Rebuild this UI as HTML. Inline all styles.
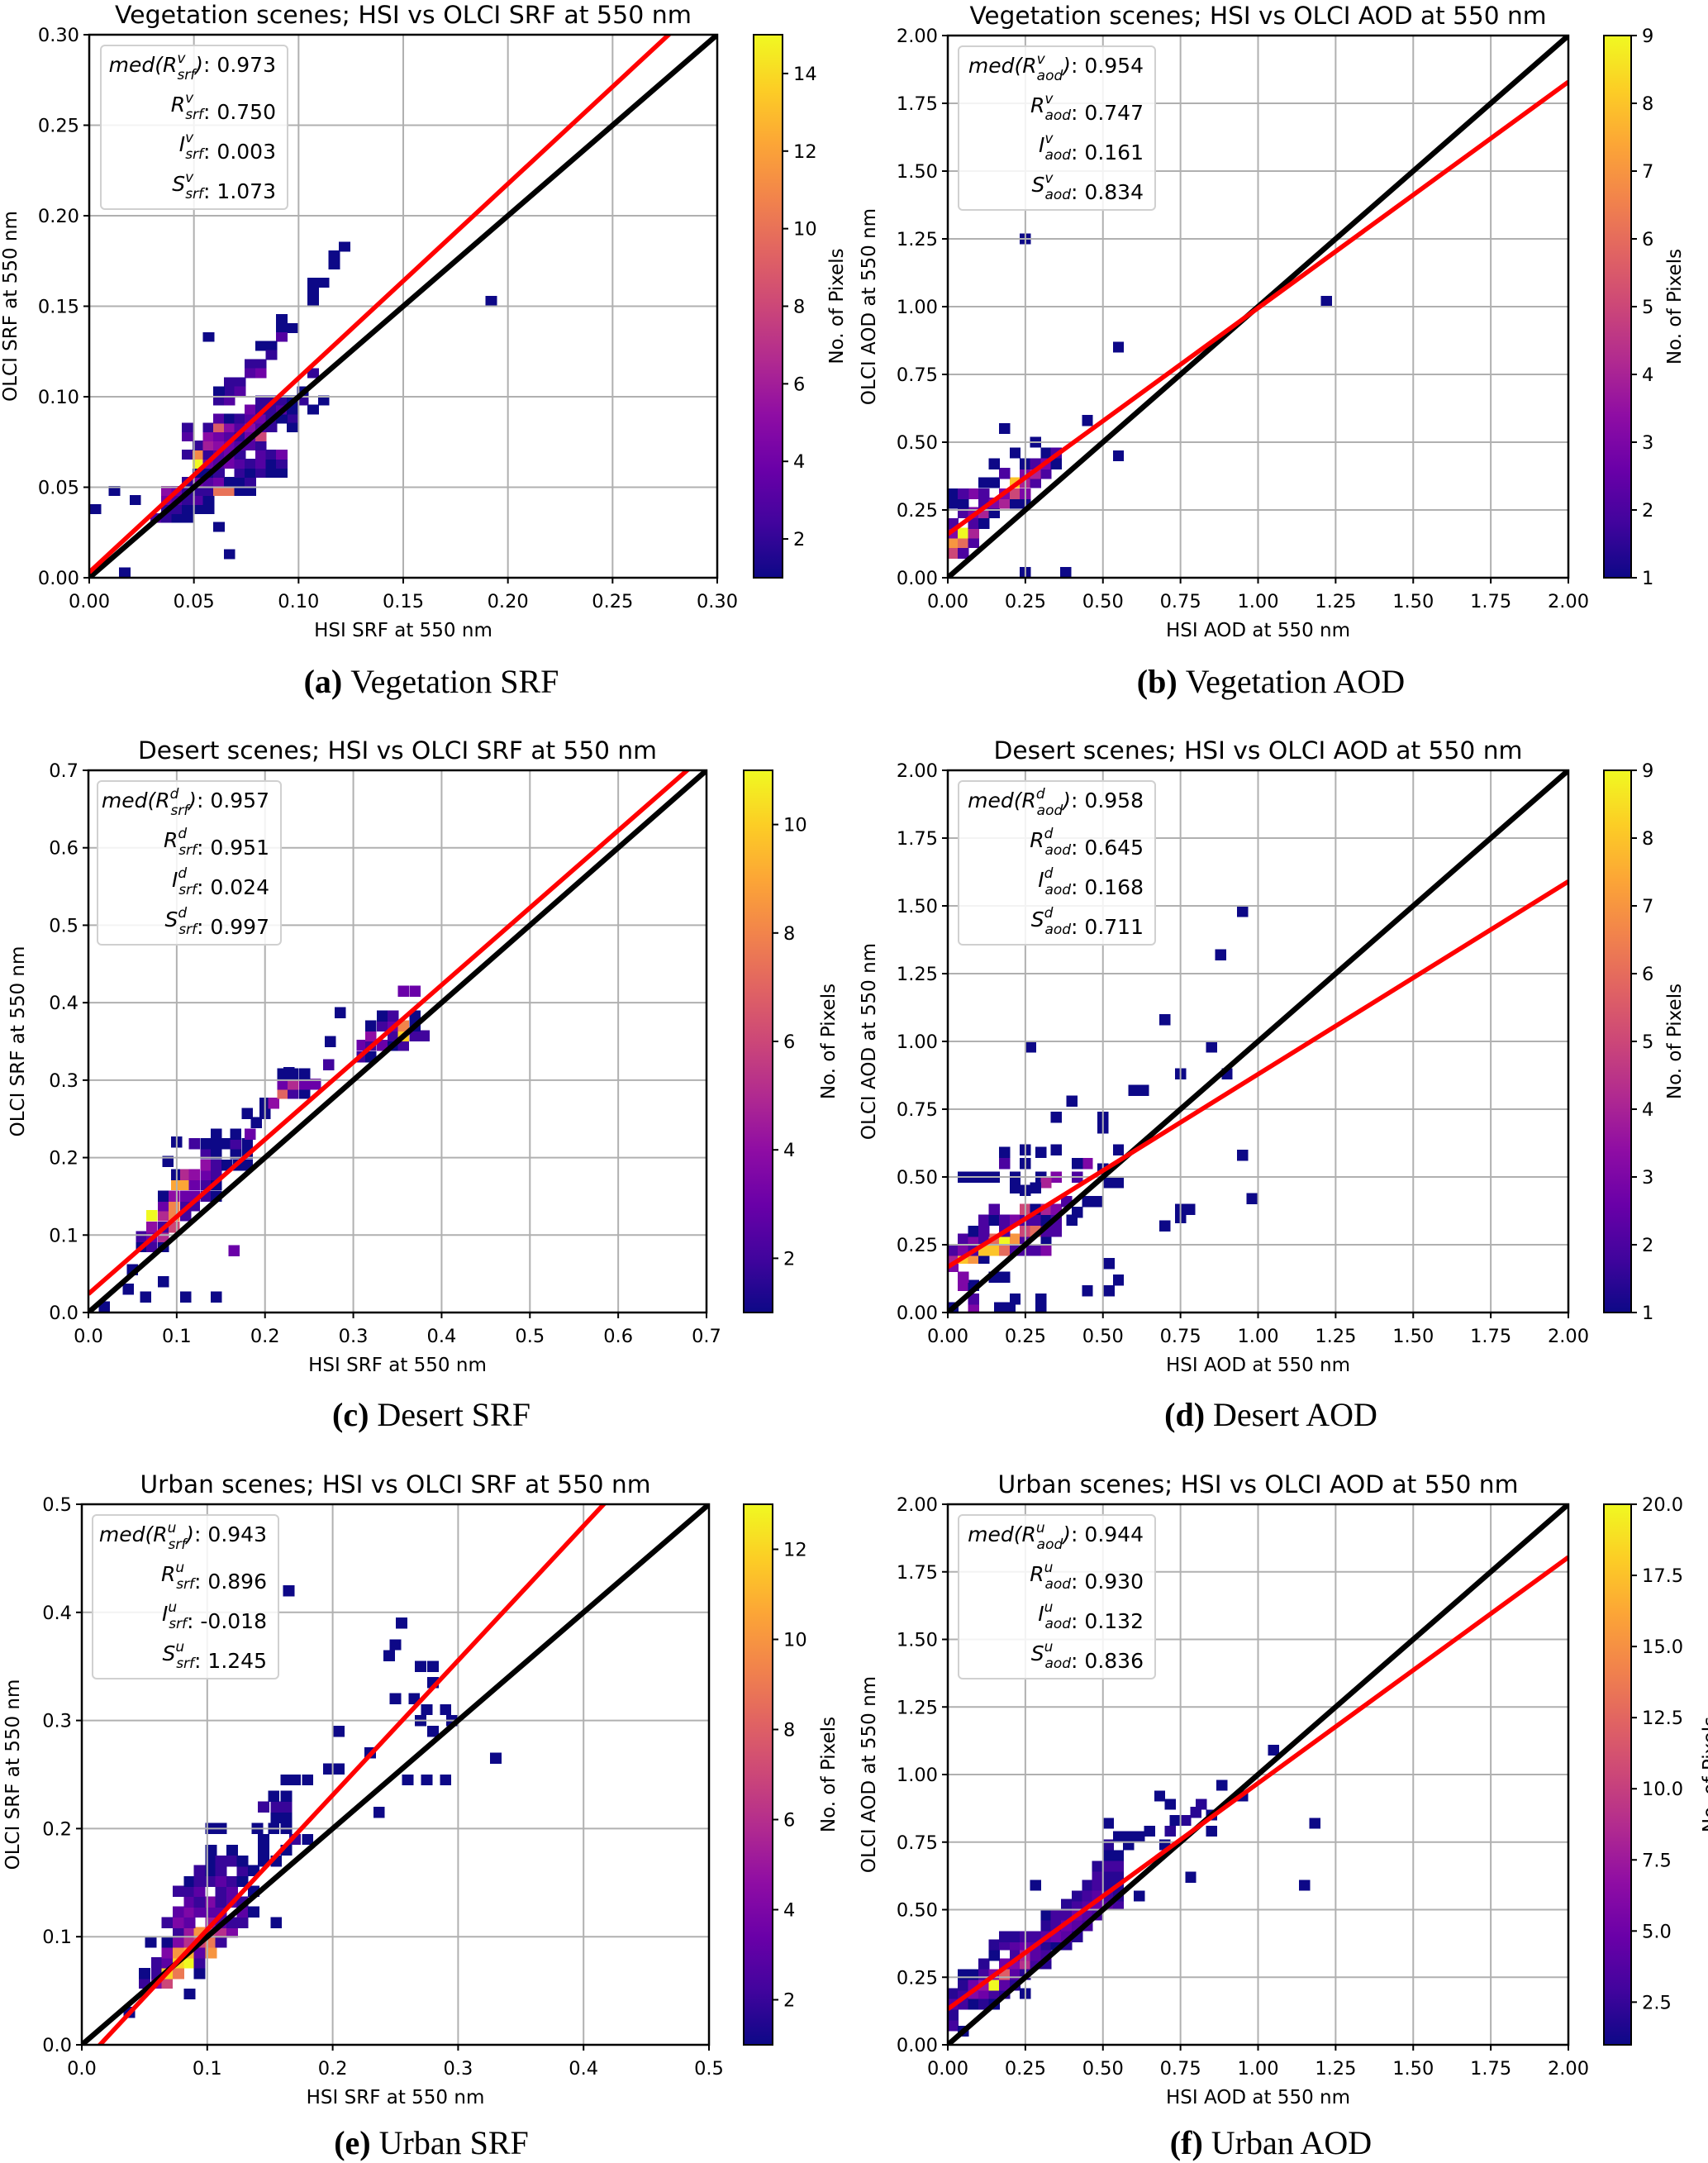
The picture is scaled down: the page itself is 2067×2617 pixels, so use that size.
<!DOCTYPE html>
<html><head><meta charset="utf-8"><style>
html,body{margin:0;padding:0;background:#fff;}
svg{display:block;}
text{font-family:"DejaVu Sans","Liberation Sans",sans-serif;fill:#000;}
.cap{font-family:"Liberation Serif",serif;}
</style></head><body>
<svg id="fig" xmlns="http://www.w3.org/2000/svg" width="2067" height="2617" viewBox="0 0 2067 2617"></svg>
<script>
// ---- data ----
const panelTitles = ["Vegetation  scenes; HSI vs OLCI SRF at 550 nm","Vegetation  scenes; HSI vs OLCI AOD at 550 nm","Desert  scenes; HSI vs OLCI SRF at 550 nm","Desert  scenes; HSI vs OLCI AOD at 550 nm","Urban  scenes; HSI vs OLCI SRF at 550 nm","Urban  scenes; HSI vs OLCI AOD at 550 nm"];
const captionLetters = ["(a)","(b)","(c)","(d)","(e)","(f)"];
const captionTexts = ["Vegetation SRF","Vegetation AOD","Desert SRF","Desert AOD","Urban SRF","Urban AOD"];
const xLabels = ["HSI SRF at 550 nm","HSI AOD at 550 nm","HSI SRF at 550 nm","HSI AOD at 550 nm","HSI SRF at 550 nm","HSI AOD at 550 nm"];
const yLabels = ["OLCI SRF at 550 nm","OLCI AOD at 550 nm","OLCI SRF at 550 nm","OLCI AOD at 550 nm","OLCI SRF at 550 nm","OLCI AOD at 550 nm"];
const axisMax = [0.3,2.0,0.7,2.0,0.5,2.0];
const srfTicksA = [0,0.05,0.10,0.15,0.20,0.25,0.30];
const aodTicks = [0,0.25,0.5,0.75,1.0,1.25,1.5,1.75,2.0];
const srfTicksC = [0,0.1,0.2,0.3,0.4,0.5,0.6,0.7];
const srfTicksE = [0,0.1,0.2,0.3,0.4,0.5];
const tickDecimals = [2,2,1,2,1,2];
const fitIntercepts = [0.003,0.161,0.024,0.168,-0.018,0.132];
const fitSlopes = [1.073,0.834,0.997,0.711,1.245,0.836];
const medR = ["0.973","0.954","0.957","0.958","0.943","0.944"];
const corrR = ["0.750","0.747","0.951","0.645","0.896","0.930"];
const interceptText = ["0.003","0.161","0.024","0.168","-0.018","0.132"];
const slopeText = ["1.073","0.834","0.997","0.711","1.245","0.836"];
const supLetters = ["v","v","d","d","u","u"];
const subTexts = ["srf","aod","srf","aod","srf","aod"];
const cbMin = [1,1,1,1,1,1];
const cbMax = [15,9,11,9,13,20];
const cbTicksA = [2,4,6,8,10,12,14];
const cbTicksB = [1,2,3,4,5,6,7,8,9];
const cbTicksC = [2,4,6,8,10];
const cbTicksE = [2,4,6,8,10,12];
const cbTicksF = [2.5,5,7.5,10,12.5,15,17.5,20];
const binW = [0.005,0.033,0.0117,0.033,0.0085,0.033];
const binH = [0.005,0.037,0.0133,0.038,0.0095,0.037];

const cellsA = [[.003,.038,1],[.012,.048,1],[.022,.043,1],[.017,.003,1],[.062,.028,1],[.067,.013,1],[.057,.133,1],[.192,.153,1],[.122,.183,1],[.117,.173,1],[.117,.178,1],[.107,.163,1],[.112,.163,1],[.107,.158,1],[.107,.153,1],[.092,.143,1],[.092,.138,1],[.097,.138,1],[.092,.133,3],[.082,.128,1],[.087,.128,1],[.087,.123,2],[.077,.118,2],[.082,.118,2],[.077,.113,3],[.082,.113,4],[.067,.108,2],[.072,.108,2],[.067,.103,2],[.062,.103,1],[.072,.103,3],[.062,.098,2],[.067,.098,3],[.107,.113,2],[.102,.103,1],[.107,.093,1],[.112,.098,1],[.102,.098,2],[.097,.088,2],[.097,.083,1],
[.032,.033,3],[.037,.033,2],[.042,.033,1],[.047,.033,1],[.037,.038,2],[.042,.038,2],[.047,.038,1],[.052,.038,1],[.057,.038,1],[.037,.043,4],[.042,.043,3],[.047,.043,2],[.052,.043,3],[.057,.043,1],[.037,.048,5],[.042,.048,4],[.047,.048,2],[.052,.048,2],[.057,.048,2],[.062,.048,10],[.067,.048,10],[.072,.048,1],[.077,.048,1],[.047,.053,2],[.052,.053,4],[.057,.053,3],[.062,.053,4],[.067,.053,1],[.072,.053,1],[.077,.053,2],[.052,.058,1],[.057,.058,1],[.062,.058,2],[.072,.058,2],[.077,.058,1],[.082,.058,2],[.087,.058,1],[.092,.058,1],[.052,.063,15],[.057,.063,4],[.062,.063,3],[.067,.063,4],[.072,.063,3],[.077,.063,2],[.082,.063,3],[.087,.063,1],[.092,.063,2],[.047,.068,2],[.052,.068,11],[.057,.068,2],[.062,.068,3],[.067,.068,4],[.072,.068,2],[.082,.068,3],[.087,.068,2],[.092,.068,4],[.052,.073,2],[.057,.073,6],[.062,.073,5],[.067,.073,4],[.072,.073,3],[.077,.073,3],[.082,.073,2],[.047,.078,3],[.057,.078,5],[.062,.078,4],[.067,.078,3],[.072,.078,2],[.077,.078,4],[.082,.078,8],[.047,.083,2],[.057,.083,2],[.062,.083,9],[.067,.083,5],[.072,.083,3],[.077,.083,5],[.082,.083,3],[.087,.083,2],[.062,.088,3],[.067,.088,1],[.072,.088,2],[.077,.088,3],[.082,.088,4],[.087,.088,2],[.092,.088,1],[.077,.093,4],[.082,.093,2],[.087,.093,2],[.092,.093,3],[.097,.093,1],[.082,.098,2],[.087,.098,2],[.092,.098,2],[.097,.098,1]];
const cellsB = [[.017,.09,5],[.05,.09,2],[.017,.13,7],[.05,.13,6],[.083,.13,2],[.017,.165,3],[.05,.165,9],[.083,.165,4],[.017,.2,2],[.083,.2,2],[.117,.2,1],[.05,.24,2],[.083,.24,3],[.117,.24,4],[.15,.24,1],[.017,.275,1],[.05,.275,1],[.117,.275,2],[.15,.275,3],[.183,.275,4],[.217,.275,1],[.25,.275,1],[.083,.31,3],[.117,.31,2],[.183,.31,3],[.217,.31,5],[.25,.31,3],[.15,.35,1],[.217,.35,8],[.25,.35,4],[.283,.35,2],[.183,.385,2],[.25,.385,3],[.283,.385,4],[.317,.385,2],[.15,.42,1],[.25,.42,1],[.283,.42,2],[.317,.42,3],[.35,.42,1],[.317,.46,1],[.35,.46,2],[.217,.46,1],[.183,.55,1],[.283,.5,1],[.45,.58,1],[.55,.45,1],[.25,.02,1],[.38,.02,1],[.25,1.25,1],[.55,.85,1],[1.22,1.02,1],[.017,.31,1],[.117,.35,1],[.05,.31,2]];
const cellsC = [[.018,.007,1],[.045,.03,1],[.065,.02,1],[.085,.04,1],[.11,.02,1],[.145,.02,1],[.165,.08,3],[.05,.055,1],[.06,.085,1],[.072,.085,2],[.085,.085,1],[.06,.098,2],[.072,.098,3],[.085,.098,5],[.072,.11,4],[.085,.11,2],[.097,.11,6],[.072,.125,13],[.085,.125,5],[.097,.125,8],[.11,.125,2],[.085,.138,3],[.097,.138,8],[.11,.138,2],[.12,.138,2],[.085,.15,1],[.097,.15,4],[.11,.15,3],[.12,.15,3],[.133,.15,2],[.145,.15,1],[.1,.165,9],[.11,.165,9],[.12,.165,3],[.133,.165,2],[.145,.165,1],[.1,.178,1],[.11,.178,5],[.12,.178,4],[.133,.178,3],[.145,.178,2],[.133,.19,4],[.145,.19,2],[.157,.19,1],[.17,.19,1],[.18,.19,1],[.133,.205,2],[.145,.205,1],[.167,.205,1],[.18,.205,1],[.12,.218,2],[.133,.218,1],[.145,.218,1],[.157,.218,1],[.167,.218,2],[.18,.218,1],[.145,.23,1],[.167,.23,1],[.183,.23,3],[.19,.245,1],[.2,.257,1],[.18,.257,1],[.2,.27,1],[.21,.27,4],[.22,.283,7],[.232,.283,2],[.245,.283,1],[.22,.295,3],[.232,.295,5],[.245,.295,3],[.257,.295,3],[.22,.308,1],[.232,.308,1],[.245,.308,1],[.272,.32,2],[.31,.33,2],[.32,.33,1],[.31,.345,3],[.32,.345,2],[.333,.345,3],[.345,.345,1],[.357,.345,2],[.32,.357,4],[.345,.357,2],[.357,.357,10],[.37,.357,2],[.38,.357,2],[.32,.37,1],[.333,.37,2],[.345,.37,3],[.357,.37,8],[.37,.37,1],[.333,.383,1],[.345,.383,2],[.37,.383,1],[.357,.415,3],[.37,.415,3],[.285,.387,1],[.274,.35,1],[.227,.31,1],[.1,.22,1],[.09,.195,1]];
const cellsD = [[.017,.017,1],[.083,.017,3],[.083,.05,2],[.167,.017,1],[.2,.017,1],[.217,.05,1],[.3,.017,1],[.3,.05,1],[.05,.1,3],[.083,.1,1],[.05,.13,3],[.15,.13,1],[.183,.13,1],[.017,.17,3],[.017,.2,4],[.05,.2,8],[.083,.2,7],[.117,.2,1],[.017,.23,2],[.05,.23,3],[.083,.23,2],[.117,.23,8],[.15,.23,8],[.183,.23,6],[.217,.23,2],[.25,.23,2],[.283,.23,2],[.317,.23,3],[.05,.27,2],[.083,.27,3],[.117,.27,2],[.15,.27,6],[.183,.27,9],[.217,.27,7],[.25,.27,2],[.317,.27,1],[.083,.3,1],[.117,.3,2],[.183,.3,2],[.25,.3,5],[.283,.3,6],[.317,.3,2],[.35,.3,2],[.117,.34,2],[.15,.34,1],[.183,.34,2],[.217,.34,3],[.25,.34,2],[.283,.34,2],[.317,.34,1],[.35,.34,2],[.4,.34,1],[.417,.37,1],[.15,.38,2],[.25,.38,5],[.283,.38,1],[.317,.38,4],[.35,.38,3],[.383,.41,2],[.45,.41,1],[.483,.41,1],[.25,.45,1],[.05,.5,1],[.083,.5,1],[.117,.5,1],[.15,.5,1],[.217,.5,1],[.3,.5,1],[.35,.5,3],[.417,.5,2],[.317,.48,4],[.217,.46,1],[.283,.46,1],[.183,.55,2],[.25,.55,1],[.45,.55,3],[.183,.59,1],[.3,.59,1],[.417,.55,1],[.25,.6,1],[.35,.6,1],[.517,.48,1],[.55,.48,1],[.5,.53,1],[.267,.98,1],[.4,.78,1],[.5,.72,1],[.5,.68,1],[.35,.72,1],[.7,1.08,1],[.85,.98,1],[.9,.88,1],[.75,.88,1],[.6,.82,1],[.63,.82,1],[.88,1.32,1],[.95,1.48,1],[.95,.58,1],[.98,.42,1],[.7,.32,1],[.75,.38,1],[.78,.38,1],[.75,.35,1],[.52,.18,1],[.55,.12,1],[.52,.08,1],[.45,.08,1],[.55,.6,1]];
const cellsE = [[.038,.03,1],[.086,.047,1],[.05,.057,2],[.06,.057,4],[.068,.057,7],[.05,.066,1],[.06,.066,2],[.068,.066,12],[.077,.066,9],[.094,.066,1],[.06,.076,2],[.068,.076,3],[.077,.076,12],[.086,.076,13],[.094,.076,2],[.068,.085,4],[.077,.085,10],[.086,.085,11],[.094,.085,3],[.103,.085,10],[.068,.095,1],[.077,.095,4],[.086,.095,6],[.094,.095,7],[.103,.095,9],[.111,.095,2],[.055,.095,1],[.077,.104,2],[.086,.104,5],[.094,.104,10],[.103,.104,7],[.111,.104,6],[.12,.104,4],[.068,.113,2],[.077,.113,4],[.086,.113,3],[.103,.113,5],[.111,.113,3],[.12,.113,2],[.128,.113,2],[.155,.113,1],[.077,.123,3],[.086,.123,4],[.094,.123,3],[.103,.123,3],[.111,.123,3],[.128,.123,3],[.137,.123,1],[.086,.132,3],[.094,.132,2],[.103,.132,4],[.111,.132,2],[.12,.132,3],[.128,.132,2],[.077,.142,2],[.086,.142,2],[.094,.142,3],[.111,.142,2],[.12,.142,3],[.137,.142,1],[.086,.151,1],[.094,.151,2],[.103,.151,2],[.111,.151,3],[.12,.151,2],[.128,.151,1],[.094,.161,2],[.103,.161,1],[.111,.161,2],[.128,.161,2],[.137,.161,1],[.103,.17,1],[.111,.17,2],[.12,.17,2],[.128,.17,1],[.145,.17,1],[.155,.17,1],[.103,.18,1],[.12,.18,1],[.145,.18,1],[.163,.18,1],[.145,.19,1],[.17,.19,2],[.18,.19,1],[.103,.2,1],[.111,.2,1],[.14,.2,1],[.153,.2,1],[.163,.2,1],[.155,.21,1],[.163,.21,1],[.145,.22,2],[.155,.22,2],[.163,.22,2],[.153,.23,1],[.163,.23,1],[.163,.245,1],[.17,.245,1],[.18,.245,1],[.197,.255,1],[.205,.255,1],[.23,.27,1],[.205,.29,1],[.28,.29,1],[.27,.3,1],[.295,.3,1],[.275,.31,1],[.29,.31,1],[.265,.32,1],[.25,.32,1],[.28,.335,1],[.27,.35,1],[.28,.35,1],[.245,.36,1],[.25,.37,1],[.255,.39,1],[.165,.42,1],[.33,.265,1],[.26,.245,1],[.275,.245,1],[.29,.245,1],[.237,.215,1]];
const cellsF = [[.017,.07,3],[.017,.11,2],[.017,.15,4],[.05,.15,3],[.083,.15,1],[.117,.15,2],[.15,.15,1],[.05,.05,1],[.017,.19,2],[.05,.19,3],[.083,.19,6],[.117,.19,5],[.15,.19,3],[.183,.19,2],[.05,.22,2],[.083,.22,5],[.117,.22,7],[.15,.22,20],[.183,.22,4],[.217,.22,2],[.05,.26,1],[.083,.26,1],[.117,.26,3],[.15,.26,6],[.183,.26,12],[.217,.26,4],[.25,.26,2],[.117,.3,2],[.183,.3,5],[.217,.3,6],[.25,.3,9],[.283,.3,3],[.317,.3,2],[.15,.33,1],[.217,.33,3],[.25,.33,8],[.283,.33,4],[.317,.33,3],[.15,.37,2],[.183,.37,3],[.217,.37,4],[.25,.37,5],[.283,.37,4],[.317,.37,2],[.383,.37,2],[.35,.37,1],[.183,.4,2],[.217,.4,2],[.25,.4,3],[.283,.4,3],[.317,.4,4],[.35,.4,5],[.383,.4,4],[.417,.4,2],[.317,.44,2],[.35,.44,3],[.383,.44,5],[.417,.44,4],[.45,.44,3],[.317,.48,1],[.35,.48,3],[.383,.48,3],[.417,.48,5],[.45,.48,4],[.483,.48,3],[.383,.52,2],[.417,.52,3],[.45,.52,4],[.483,.52,5],[.517,.52,4],[.55,.52,3],[.417,.55,2],[.45,.55,3],[.483,.55,4],[.517,.55,3],[.55,.55,2],[.617,.55,1],[.45,.59,2],[.483,.59,3],[.517,.59,2],[.55,.59,2],[.283,.59,1],[.483,.63,3],[.517,.63,2],[.55,.63,2],[.483,.66,2],[.517,.66,3],[.55,.66,3],[.517,.7,1],[.517,.74,2],[.55,.7,1],[.583,.74,1],[.583,.77,1],[.617,.77,1],[.55,.77,1],[.65,.79,1],[.517,.82,1],[.7,.74,1],[.717,.79,2],[.733,.83,1],[.767,.83,2],[.8,.86,2],[.817,.89,2],[.85,.85,1],[.85,.79,1],[.683,.92,1],[.717,.89,1],[.883,.96,1],[.95,.92,1],[1.05,1.09,1],[.783,.62,1],[1.15,.59,1],[1.183,.82,1],[.25,.19,1]];

// ---- layout (not data) ----
const layout = [
 {L:108,R:868,T:42,B:699,cbL:912,cbR:947,yl:13,cbl:1013,legX:122,legW:226,titleW:698},
 {L:1147,R:1898,T:43,B:699,cbL:1941,cbR:1974,yl:1052,cbl:2027,legX:1160,legW:238,titleW:698},
 {L:107,R:855,T:932,B:1588,cbL:900,cbR:935,yl:22,cbl:1003,legX:118,legW:222,titleW:628},
 {L:1147,R:1898,T:932,B:1588,cbL:1941,cbR:1974,yl:1052,cbl:2027,legX:1160,legW:238,titleW:640},
 {L:99,R:858,T:1820,B:2474,cbL:900,cbR:935,yl:16,cbl:1003,legX:112,legW:225,titleW:618},
 {L:1147,R:1898,T:1820,B:2474,cbL:1941,cbR:1974,yl:1052,cbl:2070,legX:1160,legW:238,titleW:630}
];
const captionX = [522,1538,522,1538,522,1538];
const captionY = [826,826,1713,1713,2594,2594];
const allCells = [cellsA,cellsB,cellsC,cellsD,cellsE,cellsF];
const allXTicks = [srfTicksA,aodTicks,srfTicksC,aodTicks,srfTicksE,aodTicks];
const allCbTicks = [cbTicksA,cbTicksB,cbTicksC,cbTicksB,cbTicksE,cbTicksF];
const panelNames = ["vegetation-srf","vegetation-aod","desert-srf","desert-aod","urban-srf","urban-aod"];

const NS = "http://www.w3.org/2000/svg";
const fig = document.getElementById('fig');
function mk(tag, attrs, parent){const e=document.createElementNS(NS,tag);for(const k in attrs)e.setAttribute(k,attrs[k]);(parent||fig).appendChild(e);return e;}
const plasmaStops = ["#0d0887","#41049d","#6a00a8","#8f0da4","#b12a90","#cc4778","#e16462","#f2844b","#fca636","#fcce25","#f0f921"];
function hex(h){return [parseInt(h.slice(1,3),16),parseInt(h.slice(3,5),16),parseInt(h.slice(5,7),16)];}
function plasma(t){t=Math.max(0,Math.min(1,t));const f=t*10;const i=Math.min(9,Math.floor(f));const u=f-i;const a=hex(plasmaStops[i]),b=hex(plasmaStops[i+1]);return `rgb(${Math.round(a[0]+(b[0]-a[0])*u)},${Math.round(a[1]+(b[1]-a[1])*u)},${Math.round(a[2]+(b[2]-a[2])*u)})`;}

const defs = mk('defs',{});
const grad = mk('linearGradient',{id:'plasmaGrad',x1:0,y1:1,x2:0,y2:0},defs);
plasmaStops.forEach((c,i)=>mk('stop',{offset:(i*10)+'%','stop-color':c},grad));

for(let p=0;p<6;p++){
  const Lo = layout[p];
  const max = axisMax[p];
  const sx = v => Lo.L + v/max*(Lo.R-Lo.L);
  const sy = v => Lo.B - v/max*(Lo.B-Lo.T);
  const g = mk('g',{});
  
  
  const cp = mk('clipPath',{id:'clip'+p},defs);
  mk('rect',{x:Lo.L,y:Lo.T,width:Lo.R-Lo.L,height:Lo.B-Lo.T},cp);

  // cells
  const cg = mk('g',{'clip-path':`url(#clip${p})`,'shape-rendering':'crispEdges'},g);
  
  
  allCells[p].forEach(c=>{
    const x0=sx(c[0]-binW[p]/2), x1=sx(c[0]+binW[p]/2), y0=sy(c[1]+binH[p]/2), y1=sy(c[1]-binH[p]/2);
    const r = mk('rect',{x:(x0-0.5).toFixed(1),y:(y0-0.5).toFixed(1),width:(x1-x0+1).toFixed(1),height:(y1-y0+1).toFixed(1),fill:plasma((c[2]-cbMin[p])/(cbMax[p]-cbMin[p]))},cg);
    
    
  });
  // grid
  const ticks = allXTicks[p];
  ticks.forEach(t=>{
    mk('line',{x1:sx(t),x2:sx(t),y1:Lo.T,y2:Lo.B,stroke:'#b0b0b0','stroke-width':2},g);
    mk('line',{x1:Lo.L,x2:Lo.R,y1:sy(t),y2:sy(t),stroke:'#b0b0b0','stroke-width':2},g);
  });
  // lines
  const lg = mk('g',{'clip-path':`url(#clip${p})`},g);
  const one = mk('line',{x1:sx(0),y1:sy(0),x2:sx(max),y2:sy(max),stroke:'#000','stroke-width':6.5},lg);
  
  
  const fit = mk('line',{x1:sx(0),y1:sy(fitIntercepts[p]),x2:sx(max),y2:sy(fitIntercepts[p]+fitSlopes[p]*max),stroke:'#ff0000','stroke-width':5.5},lg);
  
  
  // axes frame
  mk('rect',{x:Lo.L,y:Lo.T,width:Lo.R-Lo.L,height:Lo.B-Lo.T,fill:'none',stroke:'#000','stroke-width':2.5},g);
  // ticks & labels
  ticks.forEach(t=>{
    mk('line',{x1:sx(t),x2:sx(t),y1:Lo.B,y2:Lo.B+7,stroke:'#000','stroke-width':2},g);
    mk('line',{x1:Lo.L-7,x2:Lo.L,y1:sy(t),y2:sy(t),stroke:'#000','stroke-width':2},g);
    const xt = mk('text',{x:sx(t),y:Lo.B+36,'text-anchor':'middle','font-size':22.5},g);
    xt.textContent = t.toFixed(tickDecimals[p]);
    
    
    const yt = mk('text',{x:Lo.L-12,y:sy(t)+8,'text-anchor':'end','font-size':22.5},g);
    yt.textContent = t.toFixed(tickDecimals[p]);
    
    
  });
  const cx = (Lo.L+Lo.R)/2;
  const title = mk('text',{x:cx,y:Lo.T-14,'text-anchor':'middle','font-size':29,textLength:Lo.titleW,lengthAdjust:'spacingAndGlyphs'},g);
  title.textContent = panelTitles[p];
  
  
  const xl = mk('text',{x:cx,y:Lo.B+71,'text-anchor':'middle','font-size':23},g);
  xl.textContent = xLabels[p];
  
  
  const ym = (Lo.T+Lo.B)/2;
  const yl = mk('text',{x:Lo.yl,y:ym,'text-anchor':'middle','font-size':23,'dominant-baseline':'central',transform:`rotate(-90 ${Lo.yl} ${ym})`},g);
  yl.textContent = yLabels[p];
  
  

  // legend box
  const lgx = Lo.legX, lgy = Lo.T+13, lw = Lo.legW, lh = 198;
  const box = mk('rect',{x:lgx,y:lgy,width:lw,height:lh,rx:5,fill:'#fff','fill-opacity':0.85,stroke:'#d0d0d0','stroke-width':2},g);
  
  
  const rx = lgx+lw-14;
  const sup = supLetters[p], sub = subTexts[p];
  const rows = [["med(","R",")",": "+medR[p]],["","R","",": "+corrR[p]],["","I","",": "+interceptText[p]],["","S","",": "+slopeText[p]]];
  rows.forEach((r,i)=>{
    const ty = lgy+32+i*48;
    const t = mk('text',{x:rx,y:ty,'text-anchor':'end','font-size':25},g);
    
    
    const a = mk('tspan',{'font-style':'italic'},t); a.textContent = r[0]+r[1];
    const b = mk('tspan',{'font-style':'italic','font-size':17,dy:-11},t); b.textContent = sup;
    const c = mk('tspan',{'font-style':'italic','font-size':17,dx:-10,dy:20},t); c.textContent = sub;
    const d = mk('tspan',{'font-style':'italic',dy:-9},t); d.textContent = r[2];
    const e = mk('tspan',{},t); e.textContent = r[3];
  });

  // colorbar
  const cb = mk('rect',{x:Lo.cbL,y:Lo.T,width:Lo.cbR-Lo.cbL,height:Lo.B-Lo.T,fill:'url(#plasmaGrad)',stroke:'#000','stroke-width':2},g);
  
  
  const cy = v => Lo.B - (v-cbMin[p])/(cbMax[p]-cbMin[p])*(Lo.B-Lo.T);
  allCbTicks[p].forEach(v=>{
    mk('line',{x1:Lo.cbR,x2:Lo.cbR+7,y1:cy(v),y2:cy(v),stroke:'#000','stroke-width':2},g);
    const ct = mk('text',{x:Lo.cbR+13,y:cy(v)+8,'font-size':22.5},g);
    ct.textContent = p===5 ? v.toFixed(1) : String(v);
    
    
  });
  const cl = mk('text',{x:Lo.cbl,y:ym,'text-anchor':'middle','font-size':23,'dominant-baseline':'central',transform:`rotate(-90 ${Lo.cbl} ${ym})`},g);
  cl.textContent = "No. of Pixels";
  
  

  // caption
  const cap = mk('text',{x:captionX[p],y:captionY[p]+12,'text-anchor':'middle','font-size':40,class:'cap'},g);
  
  
  const c1 = mk('tspan',{'font-weight':'bold'},cap); c1.textContent = captionLetters[p]+" ";
  const c2 = mk('tspan',{},cap); c2.textContent = captionTexts[p];
}
</script>
</body></html>
